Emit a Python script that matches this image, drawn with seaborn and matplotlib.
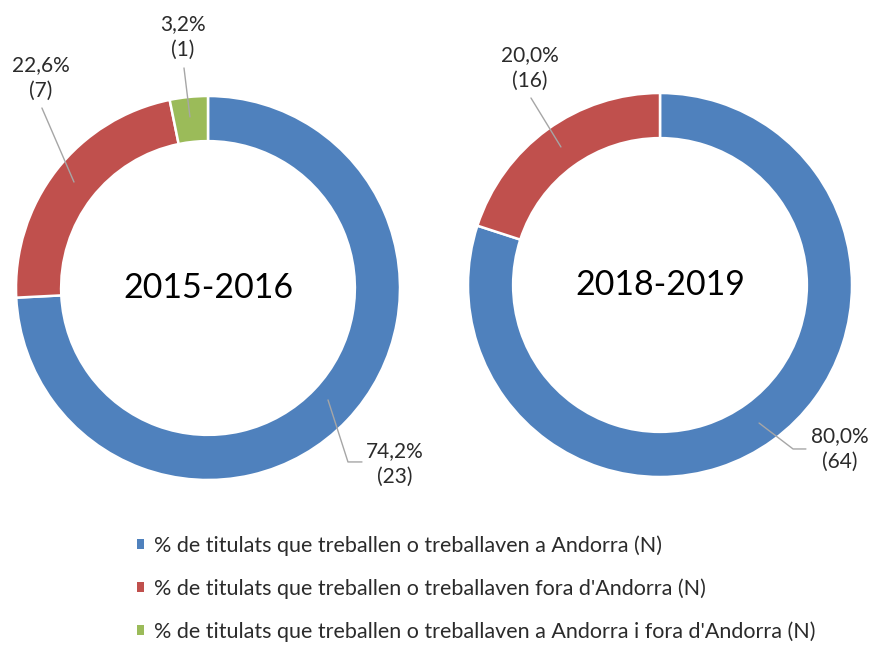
import matplotlib
matplotlib.use("Agg")
import matplotlib.pyplot as plt
import seaborn as sns
from matplotlib.patches import Patch

# ---- data ----
categories = [
    "% de titulats que treballen o treballaven a Andorra (N)",
    "% de titulats que treballen o treballaven fora d'Andorra (N)",
    "% de titulats que treballen o treballaven a Andorra i fora d'Andorra (N)",
]
period_labels = ["2015-2016", "2018-2019"]
counts_2015 = [23, 7, 1]
pcts_2015 = [74.2, 22.6, 3.2]
counts_2018 = [64, 16]
pcts_2018 = [80.0, 20.0]

colors = ["#4F81BD", "#C0504D", "#9BBB59"]

sns.set_theme(style="white")
plt.rcParams["font.family"] = ["Lato", "DejaVu Sans"]

W, H = 874, 648
fig = plt.figure(figsize=(W / 100, H / 100), dpi=100)
fig.patch.set_facecolor("white")

R = 192  # outer radius in px


def make_ax(cx, cy):
    return fig.add_axes([(cx - R) / W, (H - cy - R) / H, 2 * R / W, 2 * R / H])


label_color = "#2b2b2b"
line_color = "#A6A6A6"


def draw(ax, pcts, counts, ncol, title, label_specs):
    ax.pie(pcts, colors=colors[:ncol], startangle=90, counterclock=False,
           radius=1.0, wedgeprops=dict(width=0.235, edgecolor="white", linewidth=1.8))
    ax.set_xlim(-1, 1)
    ax.set_ylim(-1, 1)
    ax.set_aspect("equal")
    ax.axis("off")
    ax.text(0, 0, title, ha="center", va="center", fontsize=24.5, color="black")
    for (p, n), spec in zip(zip(pcts, counts), label_specs):
        txt = f"{p:.1f}%".replace(".", ",") + f"\n({n})"
        pts, tpos, ha = spec
        xs = [q[0] for q in pts]
        ys = [q[1] for q in pts]
        ax.plot(xs, ys, color=line_color, lw=1.0, clip_on=False)
        ax.text(tpos[0], tpos[1], txt, ha=ha, va="center", fontsize=15,
                color=label_color, linespacing=1.4, multialignment="center")


# left donut
axL = make_ax(208, 288)
specL = [
    ([(0.625, -0.583), (0.729, -0.906), (0.802, -0.906)], (0.823, -0.917), "left"),
    ([(-0.698, 0.552), (-0.865, 0.9375)], (-0.870, 1.094), "center"),
    ([(-0.094, 0.891), (-0.125, 1.146)], (-0.130, 1.307), "center"),
]
draw(axL, pcts_2015, counts_2015, 3, period_labels[0], specL)

# right donut
axR = make_ax(660, 285)
specR = [
    ([(0.516, -0.719), (0.693, -0.854), (0.760, -0.854)], (0.787, -0.854), "left"),
    ([(-0.516, 0.719), (-0.672, 0.974)], (-0.677, 1.130), "center"),
]
draw(axR, pcts_2018, counts_2018, 2, period_labels[1], specR)

handles = [Patch(facecolor=c, edgecolor="none") for c in colors]
fig.legend(handles, categories, loc="upper left", bbox_to_anchor=(137 / W, 1 - 535 / H),
           frameon=False, fontsize=15.5, handlelength=0.31, handleheight=0.31,
           handletextpad=0.48, labelspacing=1.05, borderpad=0, borderaxespad=0,
           labelcolor=label_color)

fig.savefig("out.png", dpi=100)
